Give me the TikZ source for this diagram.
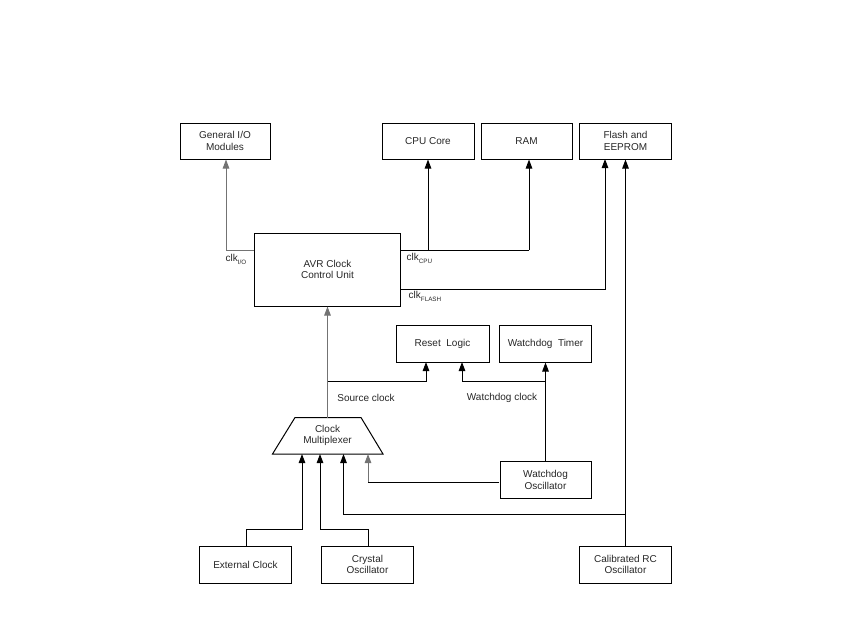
\documentclass[tikz,border=0pt]{standalone}
\usepackage{fontspec}
\setmainfont{Liberation Sans}
\usetikzlibrary{arrows.meta,positioning,calc}
\tikzset{
  blk/.style={draw=black, line width=1pt, rectangle, minimum width=92pt, minimum height=37pt, align=center, inner sep=0pt, font=\fontsize{10}{11.8}\selectfont, text=black!85},
  link/.style={draw=black, line width=1pt, -{Triangle[width=6.5pt,length=9pt]}},
  glink/.style={draw=black!55, line width=1pt, -{Triangle[width=6.5pt,length=9pt]}},
  plain/.style={draw=black, line width=1pt},
  lbl/.style={font=\fontsize{10}{11.8}\selectfont, text=black!85, inner sep=0pt},
}
\newcommand{\subtxt}[1]{\raisebox{-3pt}{\fontsize{6.3}{6.3}\selectfont #1}}
\begin{document}
\begin{tikzpicture}[x=1pt,y=-1pt]
\useasboundingbox (0,0) rectangle (850,638);
% top boxes
\node[blk, minimum width=90pt, minimum height=36pt] (gio) at (225,141) {General I/O\\Modules};
\node[blk, minimum height=36pt] (cpu) at (428,141) {CPU Core};
\node[blk, minimum width=91pt, minimum height=36pt] (ram) at (526.5,141) {RAM};
\node[blk, minimum height=36pt] (flash) at (625.5,141) {Flash and\\EEPROM};
% AVR clock control
\node[blk, minimum width=146pt, minimum height=73pt] (avr) at (327.5,269.5) {AVR Clock\\Control Unit};
% reset and watchdog
\node[blk, minimum width=93pt] (reset) at (442.5,343.5) {Reset\ \ Logic};
\node[blk] (wdt) at (545.5,343.5) {Watchdog\ \ Timer};
\node[blk, minimum width=91pt] (wdo) at (545.5,480) {Watchdog\\Oscillator};
% bottom sources
\node[blk] (ext) at (245.5,564.5) {External Clock};
\node[blk] (xtal) at (367.5,564.5) {Crystal\\Oscillator};
\node[blk] (rc) at (625.5,564.5) {Calibrated RC\\Oscillator};
% multiplexer
\node[lbl, align=center] (mux) at (327.5,435.5) {Clock\\Multiplexer};
\coordinate (mtl) at (295,417.5);
\coordinate (mtr) at (361,417.5);
\coordinate (mbr) at (383,454);
\coordinate (mbl) at (272.5,454);
\draw[plain, line join=miter] (mtl) -- (mtr) -- (mbr) -- (mbl) -- cycle;
\coordinate (mtop) at (327.5,417.5);
% junction coordinates
\coordinate (ioj) at (226,250);
\coordinate (cpuj) at (428,250);
\coordinate (ramj) at (529,250);
\coordinate (flj) at (605,289);
\coordinate (srcj) at (327.5,381);
\coordinate (rsa) at (426,362);
\coordinate (rsb) at (462,362);
\coordinate (fla) at (605,159);
\coordinate (extj) at (246,529);
\coordinate (xtalj) at (368,529);
\coordinate (rcj) at (625.5,514);
\coordinate (in1) at (302,454);
\coordinate (in2) at (320,454);
\coordinate (in3) at (343.5,454);
\coordinate (in4) at (368,454);
\coordinate (wdoj) at (499,482);
% connectors top
\draw[glink] (avr.west |- ioj) -| (gio.south -| ioj);
\draw[plain] (avr.east |- cpuj) -- (ramj);
\draw[link] (ramj) -- (ram.south -| ramj);
\draw[link] (cpuj) -- (cpu.south);
\draw[link] (avr.east |- flj) -| (fla);
\draw[link] (rc.north) -- (flash.south);
% source clock
\draw[glink] (mtop) -- (avr.south);
\draw[link] (srcj) -| (rsa);
% watchdog
\draw[link] (wdo.north) -- (wdt.south);
\draw[link] (wdo.north |- srcj) -| (rsb);
% mux inputs
\draw[link] (ext.north -| extj) -- (extj) -| (in1);
\draw[link] (xtal.north -| xtalj) -- (xtalj) -| (in2);
\draw[link] (rcj) -| (in3);
\draw[plain] (wdoj) -- (in4 |- wdoj);
\draw[glink] (in4 |- wdoj) -- (in4);
% labels
\node[lbl, anchor=west] (lio) at (225.5,259.5) {clk\subtxt{I/O}};
\node[lbl, anchor=west] (lcpu) at (406.5,258.5) {clk\subtxt{CPU}};
\node[lbl, anchor=west] (lfl) at (408.5,296.5) {clk\subtxt{FLASH}};
\node[lbl] (lsrc) at (366,398) {Source clock};
\node[lbl] (lwd) at (502,398) {Watchdog clock};
\end{tikzpicture}
\end{document}
